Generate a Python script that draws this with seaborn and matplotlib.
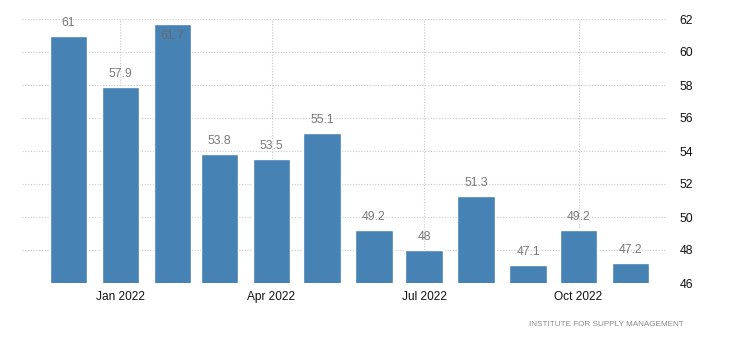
import matplotlib
matplotlib.use("Agg")
import matplotlib.pyplot as plt
import matplotlib.dates as mdates
import numpy as np
import pandas as pd
import seaborn as sns
from datetime import datetime

# ISM Manufacturing PMI, monthly
months = ["2021-12-01", "2022-01-01", "2022-02-01", "2022-03-01", "2022-04-01", "2022-05-01",
          "2022-06-01", "2022-07-01", "2022-08-01", "2022-09-01", "2022-10-01", "2022-11-01"]
values = [61, 57.9, 61.7, 53.8, 53.5, 55.1, 49.2, 48, 51.3, 47.1, 49.2, 47.2]
tick_dates = ["2022-01-01", "2022-04-01", "2022-07-01", "2022-10-01"]
tick_labels = ["Jan 2022", "Apr 2022", "Jul 2022", "Oct 2022"]
y_ticks = [46, 48, 50, 52, 54, 56, 58, 60, 62]
source = "INSTITUTE FOR SUPPLY MANAGEMENT"

sns.set_style("white")
plt.rcParams["font.family"] = ["Liberation Sans", "DejaVu Sans"]

day_num = mdates.date2num(pd.to_datetime(months))
df = pd.DataFrame({"day": day_num, "value": values})

fig = plt.figure(figsize=(7.30, 3.49), dpi=100)
ax = fig.add_axes([22 / 730, 1 - 283 / 349, (667 - 22) / 730, (283 - 19) / 349])

bar_color = "#4682b4"
sns.barplot(data=df, x="day", y="value", native_scale=True, orient="x",
            width=0.80, color=bar_color, saturation=1, ax=ax, zorder=2,
            err_kws={"linewidth": 0})

ax.set_ylim(46, 62)
jan1 = mdates.date2num(datetime(2022, 1, 1))
ax.set_xlim(jan1 - 58.7, jan1 + 325.7)

ax.set_yticks(y_ticks)
ax.set_yticklabels([str(t) for t in y_ticks])
ax.yaxis.tick_right()
ax.tick_params(axis="y", length=0, pad=9, labelsize=8.8, colors="#111111")

xt = mdates.date2num(pd.to_datetime(tick_dates))
ax.set_xticks(xt)
ax.set_xticklabels(tick_labels)
ax.tick_params(axis="x", length=4, width=0.8, color="#cccccc", pad=2,
               labelsize=8.6, labelcolor="#111111")

ax.set_xlabel("")
ax.set_ylabel("")
for s in ax.spines.values():
    s.set_visible(False)

ax.grid(True, axis="both", linestyle=(0, (1, 1.5)), color="#c8c8c8", linewidth=0.8, zorder=0)
ax.set_axisbelow(True)

# value labels: above each bar, or inside when the bar reaches the top
for d, v in zip(day_num, values):
    if v > 61.3:
        ax.annotate(f"{v:g}", (d, v), xytext=(0, -4), textcoords="offset points",
                    ha="center", va="top", fontsize=8.7, color="#6a6a6a", zorder=3)
    else:
        ax.annotate(f"{v:g}", (d, v), xytext=(0, 5), textcoords="offset points",
                    ha="center", va="bottom", fontsize=8.7, color="#7a7a7a", zorder=3)

fig.text(684 / 730, 1 - 324 / 349, source, ha="right", va="center",
         fontsize=5.9, color="#8a8a8a")

fig.savefig("out.png", dpi=100)
